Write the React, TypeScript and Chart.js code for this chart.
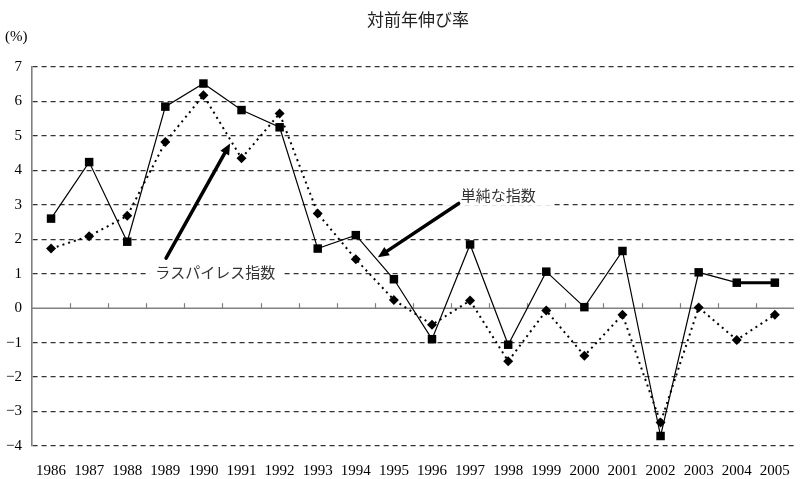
import React, { useEffect, useRef } from "react";
import { Chart, registerables } from "chart.js";

Chart.register(...registerables);

const TITLE = "対前年伸び率";
const UNIT = "(%)";
const YEARS = [
  "1986", "1987", "1988", "1989", "1990", "1991", "1992", "1993", "1994", "1995",
  "1996", "1997", "1998", "1999", "2000", "2001", "2002", "2003", "2004", "2005",
];
const SIMPLE_LABEL = "単純な指数";
const SIMPLE_VALUES = [2.6, 4.24, 1.93, 5.85, 6.52, 5.75, 5.25, 1.73, 2.12, 0.84, -0.9, 1.85, -1.06, 1.06, 0.03, 1.66, -3.71, 1.04, 0.74, 0.74];
const LASPEYRES_LABEL = "ラスパイレス指数";
const LASPEYRES_VALUES = [1.73, 2.09, 2.68, 4.82, 6.18, 4.35, 5.65, 2.75, 1.42, 0.24, -0.48, 0.22, -1.54, -0.07, -1.38, -0.19, -3.32, 0.02, -0.92, -0.19];
const Y_MIN = -4;
const Y_MAX = 7;

// annotations in data space: [categoryIndex, value]
const LASPEYRES_ARROW = { from: [3.02, 1.45], to: [4.7, 4.78] };
const LASPEYRES_TEXT_AT = [4.31, 1.05];
const SIMPLE_ARROW = { from: [10.7, 3.04], to: [8.58, 1.48] };
const SIMPLE_TEXT_AT = [11.74, 3.27];

const JP_FONT = '"Noto Sans CJK JP", "Noto Sans", sans-serif';
const NUM_FONT = '"Liberation Serif", "DejaVu Serif", serif';

function px(chart: any, idx: number, val: number): [number, number] {
  const xs = chart.scales.x;
  const ys = chart.scales.y;
  const x0 = xs.getPixelForValue(0);
  const x1 = xs.getPixelForValue(1);
  return [x0 + (x1 - x0) * idx, ys.getPixelForValue(val)];
}

function drawArrow(ctx: CanvasRenderingContext2D, a: [number, number], b: [number, number]) {
  const ang = Math.atan2(b[1] - a[1], b[0] - a[0]);
  const headLen = 11;
  const headW = 5;
  const bx = b[0] - Math.cos(ang) * headLen;
  const by = b[1] - Math.sin(ang) * headLen;
  ctx.save();
  ctx.strokeStyle = "#000";
  ctx.fillStyle = "#000";
  ctx.lineWidth = 3.5;
  ctx.lineCap = "round";
  ctx.beginPath();
  ctx.moveTo(a[0], a[1]);
  ctx.lineTo(bx, by);
  ctx.stroke();
  ctx.beginPath();
  ctx.moveTo(b[0], b[1]);
  ctx.lineTo(bx + Math.sin(ang) * headW, by - Math.cos(ang) * headW);
  ctx.lineTo(bx - Math.sin(ang) * headW, by + Math.cos(ang) * headW);
  ctx.closePath();
  ctx.fill();
  ctx.restore();
}

function drawLabel(ctx: CanvasRenderingContext2D, text: string, c: [number, number], padX: number) {
  ctx.save();
  ctx.font = `15px ${JP_FONT}`;
  const w = ctx.measureText(text).width;
  ctx.fillStyle = "#fff";
  ctx.fillRect(c[0] - w / 2 - padX, c[1] - 10, w + padX * 2, 20);
  ctx.fillStyle = "#333";
  ctx.textAlign = "center";
  ctx.textBaseline = "middle";
  ctx.fillText(text, c[0], c[1]);
  ctx.restore();
}

const overlay = {
  id: "overlay",
  beforeDatasetsDraw(chart: any) {
    const ctx = chart.ctx as CanvasRenderingContext2D;
    const { left, right } = chart.chartArea;
    const xs = chart.scales.x;
    const y0 = chart.scales.y.getPixelForValue(0);
    ctx.save();
    ctx.strokeStyle = "#808080";
    ctx.lineWidth = 1.6;
    ctx.beginPath();
    ctx.moveTo(left, y0);
    ctx.lineTo(right, y0);
    ctx.stroke();
    ctx.lineWidth = 1.2;
    for (let i = 1; i < YEARS.length; i++) {
      const x = Math.round((xs.getPixelForValue(i - 1) + xs.getPixelForValue(i)) / 2) + 0.5;
      ctx.beginPath();
      ctx.moveTo(x, y0);
      ctx.lineTo(x, y0 - 5);
      ctx.stroke();
    }
    ctx.restore();
  },
  afterDatasetsDraw(chart: any) {
    const ctx = chart.ctx as CanvasRenderingContext2D;
    drawLabel(ctx, LASPEYRES_LABEL, px(chart, LASPEYRES_TEXT_AT[0], LASPEYRES_TEXT_AT[1]), 6);
    drawLabel(ctx, SIMPLE_LABEL, px(chart, SIMPLE_TEXT_AT[0], SIMPLE_TEXT_AT[1]), 16);
    drawArrow(ctx, px(chart, LASPEYRES_ARROW.from[0], LASPEYRES_ARROW.from[1]), px(chart, LASPEYRES_ARROW.to[0], LASPEYRES_ARROW.to[1]));
    drawArrow(ctx, px(chart, SIMPLE_ARROW.from[0], SIMPLE_ARROW.from[1]), px(chart, SIMPLE_ARROW.to[0], SIMPLE_ARROW.to[1]));
  },
  afterDraw(chart: any) {
    const ctx = chart.ctx as CanvasRenderingContext2D;
    const { left, right } = chart.chartArea;
    ctx.save();
    ctx.fillStyle = "#222";
    ctx.textAlign = "center";
    ctx.textBaseline = "middle";
    ctx.font = `17px ${JP_FONT}`;
    ctx.fillText(TITLE, (left + right) / 2 + 5, 20);
    ctx.font = `15px ${NUM_FONT}`;
    ctx.textAlign = "left";
    ctx.fillStyle = "#000";
    ctx.fillText(UNIT, 5, 37);
    ctx.restore();
  },
};

export default function App() {
  const ref = useRef<HTMLCanvasElement | null>(null);
  useEffect(() => {
    if (!ref.current) return;
    const chart = new Chart(ref.current, {
      type: "line",
      data: {
        labels: YEARS,
        datasets: [
          {
            label: SIMPLE_LABEL,
            data: SIMPLE_VALUES,
            borderColor: "#000",
            backgroundColor: "#000",
            borderWidth: 1.2,
            pointStyle: "rect",
            pointRadius: 6,
            pointBorderWidth: 0,
            tension: 0,
            segment: {
              borderWidth: (c: any) => (c.p0DataIndex === 18 ? 3 : 1.2),
            },
          },
          {
            label: LASPEYRES_LABEL,
            data: LASPEYRES_VALUES,
            borderColor: "#000",
            backgroundColor: "#000",
            borderWidth: 2,
            borderDash: [2, 4],
            pointStyle: "rectRot",
            pointRadius: 5,
            pointBorderWidth: 0,
            tension: 0,
          },
        ],
      },
      options: {
        responsive: false,
        animation: false,
        layout: { padding: { top: 67, right: 1, left: 0, bottom: 0 } },
        plugins: {
          legend: { display: false },
          title: { display: false },
          tooltip: { enabled: false },
        },
        scales: {
          x: {
            type: "category",
            offset: true,
            grid: { display: false, drawTicks: false },
            border: { display: false },
            ticks: {
              padding: 16,
              color: "#000",
              font: { family: NUM_FONT, size: 15 },
              maxRotation: 0,
              autoSkip: false,
            },
            afterFit: (s: any) => {
              s.height = 33;
            },
          },
          y: {
            min: Y_MIN,
            max: Y_MAX,
            grid: {
              drawTicks: false,
              color: (c: any) => (c.tick && c.tick.value === 0 ? "rgba(0,0,0,0)" : "#333"),
              lineWidth: 1.2,
            },
            border: { display: true, color: "#808080", width: 1.6, dash: [5, 4] },
            ticks: {
              stepSize: 1,
              padding: 10,
              color: "#000",
              font: { family: NUM_FONT, size: 15 },
              callback: (v: any) => (Number(v) < 0 ? "\u2212" + Math.abs(Number(v)) : String(v)),
            },
            afterFit: (s: any) => {
              s.width = 32;
            },
          },
        },
      },
      plugins: [overlay],
    });
    return () => chart.destroy();
  }, []);
  return (
    <div style={{ position: "absolute", left: 0, top: 0, width: 806, height: 479, background: "#fff" }}>
      <canvas ref={ref} width={806} height={479} />
    </div>
  );
}
